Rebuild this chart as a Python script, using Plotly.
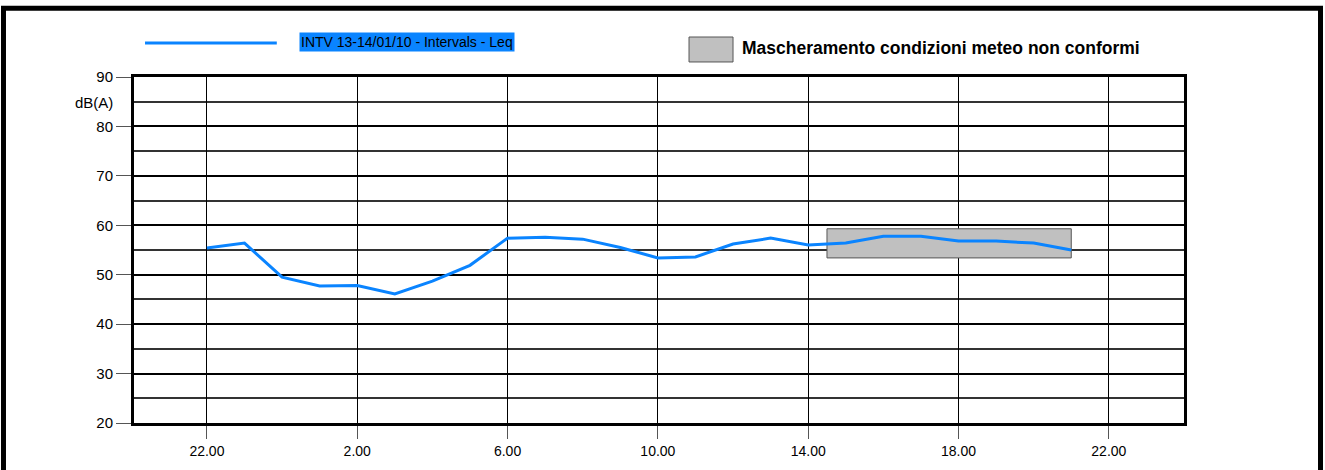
import plotly.graph_objects as go

# hours after 22:00 on 13/01 (0 = 22:00, 23 = 21:00 next day)
hours = list(range(24))
leq_values = [55.4, 56.4, 49.5, 47.7, 47.8, 46.1, 48.7, 51.9, 57.4, 57.6,
              57.2, 55.5, 53.4, 53.6, 56.2, 57.4, 56.0, 56.4, 57.8, 57.8,
              56.8, 56.8, 56.4, 55.0]

tick_hours = [0, 4, 8, 12, 16, 20, 24]
tick_labels = ["22.00", "2.00", "6.00", "10.00", "14.00", "18.00", "22.00"]
y_ticks = [20, 30, 40, 50, 60, 70, 80, 90]

# masked interval (non conforming weather)
mask_x = [16.5, 23.0]
mask_y = [53.4, 59.3]

series_name = "INTV 13-14/01/10 - Intervals - Leq"
mask_name = "Mascheramento condizioni meteo non conformi"

FONT = "Arial, Liberation Sans, sans-serif"
BLUE = "#0a84ff"

fig = go.Figure()

# grey masking box, drawn under the line but over the grid
fig.add_trace(go.Scatter(
    x=[mask_x[0], mask_x[1], mask_x[1], mask_x[0], mask_x[0]],
    y=[mask_y[0], mask_y[0], mask_y[1], mask_y[1], mask_y[0]],
    fill="toself", fillcolor="#c0c0c0", mode="lines",
    line=dict(color="#555555", width=1), hoverinfo="skip", showlegend=False,
))

fig.add_trace(go.Scatter(
    x=hours, y=leq_values, mode="lines", name=series_name,
    line=dict(color=BLUE, width=3), showlegend=False,
))

fig.update_layout(
    width=1325, height=470,
    margin=dict(l=134, r=141, t=77, b=47),
    paper_bgcolor="white", plot_bgcolor="white",
    font=dict(family=FONT, size=14, color="black"),
    xaxis=dict(
        range=[-1.94, 26.0], tickvals=tick_hours, ticktext=tick_labels,
        showgrid=True, gridcolor="black", gridwidth=1,
        ticks="outside", ticklen=13, tickcolor="#555555", tickwidth=1,
        showline=True, linecolor="black", linewidth=3, mirror=True,
        zeroline=False, tickfont=dict(size=14),
    ),
    yaxis=dict(
        range=[20, 90], tickvals=y_ticks,
        showgrid=True, gridcolor="black", gridwidth=2,
        minor=dict(dtick=5, tick0=0, showgrid=True, gridcolor="#333333",
                   gridwidth=1.5, ticks=""),
        ticks="outside", ticklen=15, tickcolor="#555555", tickwidth=1,
        showline=True, linecolor="black", linewidth=3, mirror=True,
        zeroline=False, tickfont=dict(size=15),
    ),
)

# y unit label
fig.add_annotation(text="dB(A)", xref="paper", yref="y", x=-0.018, y=84.8,
                   xanchor="right", yanchor="middle", showarrow=False,
                   font=dict(size=15))

# legend: blue line + highlighted label
fig.add_shape(type="line", xref="paper", yref="paper", x0=0.0105, x1=0.136,
              y0=1.098, y1=1.098, line=dict(color=BLUE, width=3))
fig.add_annotation(text=series_name, xref="paper", yref="paper", x=0.157,
                   y=1.1026, xanchor="left", yanchor="middle", showarrow=False,
                   bgcolor=BLUE, borderpad=1, font=dict(size=14, color="black"))

# legend: grey mask box + bold label
fig.add_shape(type="rect", xref="paper", yref="paper", x0=0.5286, x1=0.5705,
              y0=1.0434, y1=1.1156, fillcolor="#c0c0c0",
              line=dict(color="#555555", width=1))
fig.add_annotation(text="<b>" + mask_name + "</b>", xref="paper", yref="paper",
                   x=0.577, y=1.0838, xanchor="left", yanchor="middle",
                   showarrow=False, font=dict(size=17.5, color="black"))

# outer black frame of the page
fig.add_shape(type="rect", xref="paper", yref="paper", x0=-0.1243, x1=1.13,
              y0=-0.16, y1=1.199, line=dict(color="black", width=5),
              fillcolor="rgba(0,0,0,0)", layer="above")

fig.write_html(
    "out.html",
    config={"displayModeBar": False},
    post_script="document.body.style.margin='0';document.body.style.overflow='hidden';",
)
